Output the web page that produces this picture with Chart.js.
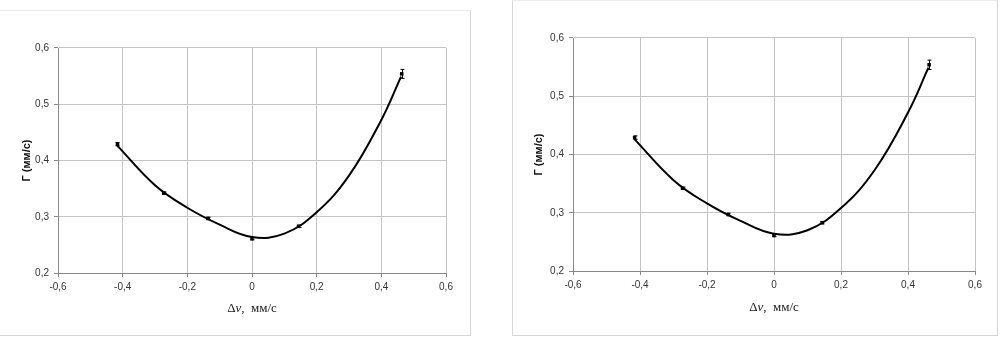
<!DOCTYPE html>
<html>
<head>
<meta charset="utf-8">
<script src="https://cdn.jsdelivr.net/npm/chart.js@4.4.1/dist/chart.umd.min.js"></script>
<style>
  body { margin: 0; background: #fff; width: 1003px; height: 339px; overflow: hidden; position: relative; }
  .box { position: absolute; border: 1px solid #d6d6d6; box-sizing: border-box; }
  #boxLeft { left: -1px; top: 10px; width: 472px; height: 326px; border-top-color: #ececec; }
  #boxRight { left: 512px; top: 0px; width: 486px; height: 336px; border-top-color: #ececec; }
  canvas { position: absolute; left: 0; top: 0; }
</style>
</head>
<body>
<div class="box" id="boxLeft"><canvas id="chartLeft" width="470" height="324"></canvas></div>
<div class="box" id="boxRight"><canvas id="chartRight" width="484" height="334"></canvas></div>
<script>
// measured points (Δv, Г) with their error bars
const pointX = [-0.416, -0.273, -0.136, 0, 0.144, 0.463];
const pointY = [0.429, 0.342, 0.297, 0.261, 0.283, 0.554];
const pointErr = [0.003, 0.002, 0.002, 0.002, 0.002, 0.008];

// fitted curve
const curveX = [-0.416, -0.3, -0.2, -0.1, 0, 0.1, 0.2, 0.3, 0.4, 0.461];
const curveY = [0.426, 0.356, 0.316, 0.286, 0.264, 0.27, 0.308, 0.373, 0.472, 0.549];

// tick labels
const xTickLabels = ['-0,6', '-0,4', '-0,2', '0', '0,2', '0,4', '0,6'];
const yTickLabels = ['0,2', '0,3', '0,4', '0,5', '0,6'];

const yTitle = 'Г (мм/с)';

// error bars for the measured points
const errorBars = {
  id: 'errorBars',
  afterDatasetsDraw(chart) {
    const ctx = chart.ctx;
    const xs = chart.scales.x, ys = chart.scales.y;
    ctx.save();
    ctx.strokeStyle = '#000';
    ctx.lineWidth = 1;
    for (let i = 0; i < pointX.length; i++) {
      const px = Math.round(xs.getPixelForValue(pointX[i])) + 0.5;
      const top = ys.getPixelForValue(pointY[i] + pointErr[i]);
      const bot = ys.getPixelForValue(pointY[i] - pointErr[i]);
      ctx.beginPath();
      ctx.moveTo(px, top); ctx.lineTo(px, bot);
      ctx.moveTo(px - 2, top); ctx.lineTo(px + 2, top);
      ctx.moveTo(px - 2, bot); ctx.lineTo(px + 2, bot);
      ctx.stroke();
    }
    ctx.restore();
  }
};

// x axis title with the italic v
const xTitle = {
  id: 'xTitle',
  afterDraw(chart, args, opts) {
    const ctx = chart.ctx, a = chart.chartArea;
    const parts = [
      ['Δ', '13px "Liberation Serif"'],
      ['v', 'italic 13px "Liberation Serif"'],
      [',  мм/с', '13px "Liberation Serif"']
    ];
    ctx.save();
    let total = 0;
    parts.forEach(p => { ctx.font = p[1]; total += ctx.measureText(p[0]).width; });
    let x = (a.left + a.right) / 2 - total / 2;
    const y = a.bottom + opts.offset;
    ctx.fillStyle = '#222';
    ctx.textBaseline = 'middle';
    parts.forEach(p => {
      ctx.font = p[1];
      ctx.fillText(p[0], x, y);
      x += ctx.measureText(p[0]).width;
    });
    ctx.restore();
  }
};

function makeChart(id, pad, yWidth, xHeight, titlePad, titleOffset) {
  return new Chart(document.getElementById(id), {
    type: 'scatter',
    data: {
      datasets: [
        {
          data: curveX.map((x, i) => ({x: x, y: curveY[i]})),
          showLine: true,
          borderColor: '#000',
          borderWidth: 2,
          pointRadius: 0,
          tension: 0.4
        },
        {
          data: pointX.map((x, i) => ({x: x, y: pointY[i]})),
          pointStyle: 'rect',
          pointRadius: 2.5,
          backgroundColor: '#000',
          borderColor: '#000',
          borderWidth: 0
        }
      ]
    },
    options: {
      responsive: false,
      animation: false,
      devicePixelRatio: 1,
      layout: { padding: pad },
      plugins: {
        legend: { display: false },
        tooltip: { enabled: false },
        xTitle: { offset: titleOffset }
      },
      scales: {
        x: {
          type: 'linear',
          min: -0.6, max: 0.6,
          afterBuildTicks: s => { s.ticks = xTickLabels.map((t, i) => ({value: -0.6 + i * 0.2})); },
          ticks: {
            callback: (v, i) => xTickLabels[i],
            color: '#333',
            font: { family: '"Liberation Sans", Arial', size: 10 },
            padding: 4,
            maxRotation: 0
          },
          grid: { color: '#c4c4c4', tickColor: '#888', tickLength: 4 },
          border: { color: '#888' },
          afterFit: s => { s.height = xHeight; }
        },
        y: {
          min: 0.2, max: 0.6,
          afterBuildTicks: s => { s.ticks = yTickLabels.map((t, i) => ({value: 0.2 + i * 0.1})); },
          ticks: {
            callback: (v, i) => yTickLabels[i],
            color: '#333',
            font: { family: '"Liberation Sans", Arial', size: 10 },
            padding: 5
          },
          grid: { color: '#c4c4c4', tickColor: '#888', tickLength: 4 },
          border: { color: '#888' },
          title: {
            display: true,
            text: yTitle,
            color: '#111',
            font: { family: '"Liberation Sans", Arial', size: 11, weight: 'bold' },
            padding: { top: titlePad, bottom: 0 }
          },
          afterFit: s => { s.width = yWidth; }
        }
      }
    },
    plugins: [errorBars, xTitle]
  });
}

makeChart('chartLeft', {left: 0, top: 37, right: 24, bottom: 0}, 58, 62, 20, 36);
makeChart('chartRight', {left: 0, top: 37, right: 22, bottom: 0}, 60, 64, 19, 37);
</script>
</body>
</html>
